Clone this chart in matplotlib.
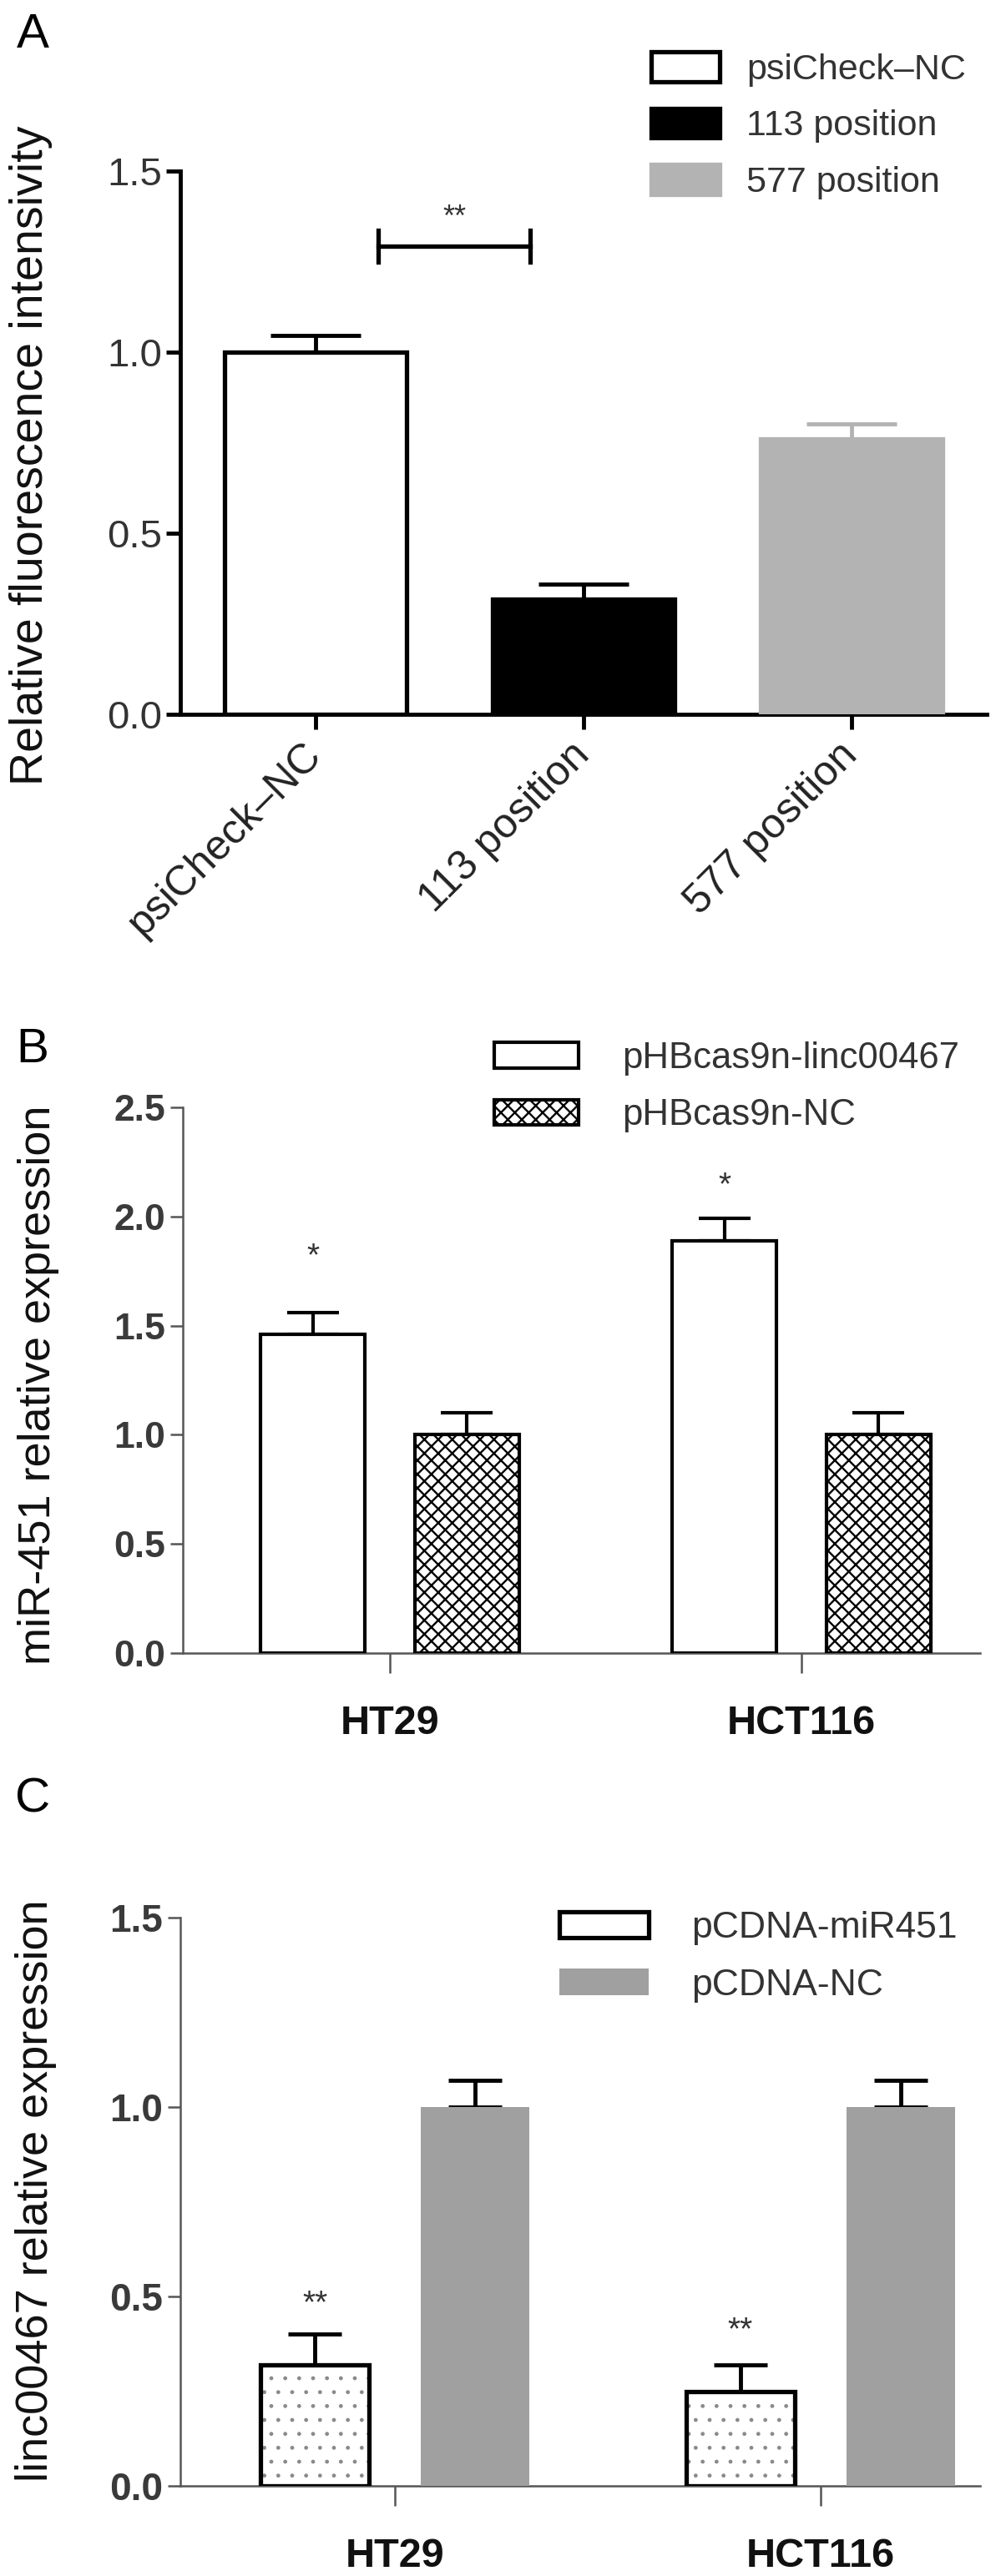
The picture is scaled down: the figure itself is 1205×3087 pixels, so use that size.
import numpy as np
import matplotlib.pyplot as plt

plt.rcParams['font.family'] = ['Liberation Sans', 'DejaVu Sans']
plt.rcParams['hatch.linewidth'] = 1.7

# Daten Panel A
a_labels = ["psiCheck\u2013NC", "113 position", "577 position"]
a_values = [1.0, 0.318, 0.76]
a_errors = [0.045, 0.042, 0.042]
a_colors = ["white", "black", "#b3b3b3"]
a_edges = ["black", "black", "#b3b3b3"]

# Daten Panel B
cell_lines = ["HT29", "HCT116"]
b_series = ["pHBcas9n-linc00467", "pHBcas9n-NC"]
b_linc = [1.46, 1.89]
b_linc_err = [0.10, 0.10]
b_nc = [1.0, 1.0]
b_nc_err = [0.10, 0.10]
b_star_y = [1.815, 2.14]

# Daten Panel C
c_series = ["pCDNA-miR451", "pCDNA-NC"]
c_mir = [0.32, 0.25]
c_mir_err = [0.08, 0.07]
c_nc = [1.0, 1.0]
c_nc_err = [0.07, 0.07]
c_star_y = [0.48, 0.41]

W, H = 1205, 3087
fig = plt.figure(figsize=(W / 100, H / 100), dpi=100)


def box(left, top, right, bottom):
    return [left / W, 1 - bottom / H, (right - left) / W, (bottom - top) / H]


def style_axes(ax, color, lw):
    ax.spines['top'].set_visible(False)
    ax.spines['right'].set_visible(False)
    for s in ['left', 'bottom']:
        ax.spines[s].set_color(color)
        ax.spines[s].set_linewidth(lw)
    ax.tick_params(colors=color, width=lw)


# ---------------- Panel A ----------------
axA = fig.add_axes(box(216, 205, 1182, 856))
xa = np.arange(len(a_values))
barsA = axA.bar(xa, a_values, width=0.68, color=a_colors, edgecolor=a_edges, linewidth=3.8, zorder=3)
for i in range(len(xa)):
    axA.errorbar(xa[i], a_values[i], yerr=[[0], [a_errors[i]]], fmt='none',
                 ecolor=a_edges[i], elinewidth=3.5, capsize=39, capthick=3.5, zorder=2)

# Signifikanz-Klammer
axA.plot([0.234, 0.80], [1.293, 1.293], color='black', lw=3.8)
axA.plot([0.234, 0.234], [1.25, 1.337], color='black', lw=3.8)
axA.plot([0.80, 0.80], [1.25, 1.337], color='black', lw=3.8)
axA.text(0.517, 1.37, "**", fontsize=26, ha='center', va='center', color='#333333')

axA.set_xlim(-0.505, 2.505)
axA.set_ylim(0, 1.5)
axA.set_yticks([0, 0.5, 1.0, 1.5])
axA.set_yticklabels(["0.0", "0.5", "1.0", "1.5"])
axA.set_xticks(xa)
axA.set_xticklabels(a_labels, rotation=45, ha='right', va='center', rotation_mode='anchor')
style_axes(axA, 'black', 3.5)
axA.tick_params(axis='y', length=12, labelsize=34, labelcolor='#333333', pad=4)
axA.tick_params(axis='x', length=13, labelsize=36, labelcolor='#222222', pad=17)

axA.legend(list(barsA.patches), a_labels, loc='upper left',
           bbox_to_anchor=(780 / W, 1 - 62 / H), bbox_transform=fig.transFigure,
           frameon=False, borderpad=0, borderaxespad=0, fontsize=31,
           handlelength=1.9, handleheight=0.9, handletextpad=0.75, labelspacing=0.6,
           labelcolor='#333333')

# ---------------- Panel B ----------------
axB = fig.add_axes(box(219, 1327, 1174, 1981))
xb = np.arange(len(cell_lines))
off, bw = 0.187, 0.254
barsB1 = axB.bar(xb - off, b_linc, width=bw, color='white', edgecolor='black', linewidth=3, zorder=3)
barsB2 = axB.bar(xb + off, b_nc, width=bw, color='white', edgecolor='black', linewidth=3,
                 hatch='xx', zorder=3)
axB.errorbar(xb - off, b_linc, yerr=[np.zeros(2), b_linc_err], fmt='none', ecolor='black',
             elinewidth=3, capsize=22, capthick=3, zorder=2)
axB.errorbar(xb + off, b_nc, yerr=[np.zeros(2), b_nc_err], fmt='none', ecolor='black',
             elinewidth=3, capsize=22, capthick=3, zorder=2)
for i in range(len(xb)):
    axB.text(xb[i] - off, b_star_y[i], "*", fontsize=28, ha='center', va='center', color='#333333')

axB.set_xlim(-0.503, 1.434)
axB.set_ylim(0, 2.5)
axB.set_yticks([0, 0.5, 1.0, 1.5, 2.0, 2.5])
axB.set_yticklabels(["0.0", "0.5", "1.0", "1.5", "2.0", "2.5"])
axB.set_xticks(xb)
axB.set_xticklabels(cell_lines)
style_axes(axB, '#555555', 1.8)
axB.tick_params(axis='y', length=11, labelsize=32, labelcolor='#3a3a3a', pad=4)
axB.tick_params(axis='x', length=17, labelsize=35, labelcolor='#111111', pad=28)
for t in axB.get_yticklabels() + axB.get_xticklabels():
    t.set_fontweight('bold')

axB.legend([barsB1, barsB2], b_series, loc='upper left',
           bbox_to_anchor=(592 / W, 1 - 1248 / H), bbox_transform=fig.transFigure,
           frameon=False, borderpad=0, borderaxespad=0, fontsize=31.5,
           handlelength=2.3, handleheight=0.7, handletextpad=1.2, labelspacing=0.62,
           labelcolor='#333333')

# ---------------- Panel C ----------------
axC = fig.add_axes(box(216, 2298, 1174, 2979))
xc = np.arange(len(cell_lines))
off, bw = 0.188, 0.255
dots = axC.bar(xc - off, c_mir, width=bw, color='white', edgecolor='#8a8a8a', linewidth=0,
               hatch='.', zorder=3)
for p in dots.patches:
    if hasattr(p, 'set_hatch_linewidth'):
        p.set_hatch_linewidth(1.0)
barsC1 = axC.bar(xc - off, c_mir, width=bw, fill=False, edgecolor='black', linewidth=3.8, zorder=4)
barsC2 = axC.bar(xc + off, c_nc, width=bw, color='#a0a0a0', edgecolor='#a0a0a0', linewidth=0, zorder=3)
axC.errorbar(xc - off, c_mir, yerr=[np.zeros(2), c_mir_err], fmt='none', ecolor='black',
             elinewidth=3.5, capsize=23, capthick=3.5, zorder=2)
axC.errorbar(xc + off, c_nc, yerr=[np.zeros(2), c_nc_err], fmt='none', ecolor='black',
             elinewidth=3.5, capsize=23, capthick=3.5, zorder=2)
for i in range(len(xc)):
    axC.text(xc[i] - off, c_star_y[i], "**", fontsize=28, ha='center', va='center', color='#333333')

axC.set_xlim(-0.504, 1.375)
axC.set_ylim(0, 1.5)
axC.set_yticks([0, 0.5, 1.0, 1.5])
axC.set_yticklabels(["0.0", "0.5", "1.0", "1.5"])
axC.set_xticks(xc)
axC.set_xticklabels(cell_lines)
style_axes(axC, '#555555', 1.8)
axC.tick_params(axis='y', length=11, labelsize=33, labelcolor='#3a3a3a', pad=4)
axC.tick_params(axis='x', length=17, labelsize=35, labelcolor='#111111', pad=28)
for t in axC.get_yticklabels() + axC.get_xticklabels():
    t.set_fontweight('bold')

axC.legend([barsC1, barsC2], c_series, loc='upper left',
           bbox_to_anchor=(670 / W, 1 - 2290 / H), bbox_transform=fig.transFigure,
           frameon=False, borderpad=0, borderaxespad=0, fontsize=32,
           handlelength=2.4, handleheight=0.7, handletextpad=1.15, labelspacing=0.62,
           labelcolor='#333333')

# Achsenbeschriftungen und Panel-Buchstaben
fig.text(37 / W, 1 - 546 / H, "Relative fluorescence intensivity", rotation=90,
         fontsize=40, ha='center', va='center', color='#111111')
fig.text(46 / W, 1 - 1660 / H, "miR-451 relative expression", rotation=90,
         fontsize=39, ha='center', va='center', color='#111111')
fig.text(43 / W, 1 - 2625 / H, "linc00467 relative expression", rotation=90,
         fontsize=39, ha='center', va='center', color='#111111')

for letter, yy in [("A", 42), ("B", 1258), ("C", 2157)]:
    fig.text(39 / W, 1 - yy / H, letter, fontsize=42, ha='center', va='center', color='black')

fig.savefig("out.png", dpi=100, facecolor='white')
